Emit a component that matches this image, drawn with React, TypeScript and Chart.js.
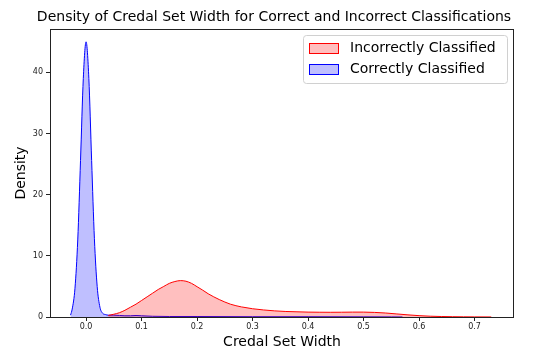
import React, { useEffect, useRef } from "react";
import { Chart, registerables } from "chart.js";

Chart.register(...registerables);

const TITLE = "Density of Credal Set Width for Correct and Incorrect Classifications";
const X_LABEL = "Credal Set Width";
const Y_LABEL = "Density";
const SERIES_NAMES = ["Incorrectly Classified", "Correctly Classified"];

const X_TICKS = [0.0, 0.1, 0.2, 0.3, 0.4, 0.5, 0.6, 0.7];
const Y_TICKS = [0, 10, 20, 30, 40];

const incorrectX = [
  0.04, 0.05, 0.06, 0.07, 0.08, 0.09, 0.1, 0.11, 0.12, 0.13, 0.14, 0.15, 0.16, 0.17, 0.18, 0.19,
  0.2, 0.21, 0.22, 0.23, 0.24, 0.25, 0.26, 0.27, 0.28, 0.29, 0.3, 0.32, 0.34, 0.36, 0.38, 0.4,
  0.42, 0.44, 0.46, 0.48, 0.5, 0.52, 0.54, 0.56, 0.58, 0.6, 0.62, 0.64, 0.66, 0.68, 0.7, 0.73,
];
const incorrectY = [
  0.25, 0.45, 0.7, 1.1, 1.6, 2.1, 2.7, 3.3, 3.9, 4.5, 5.0, 5.5, 5.8, 5.95, 5.85, 5.5,
  4.95, 4.4, 3.8, 3.3, 2.85, 2.45, 2.1, 1.85, 1.65, 1.5, 1.35, 1.15, 1.0, 0.9, 0.85, 0.8,
  0.78, 0.77, 0.78, 0.8, 0.8, 0.75, 0.65, 0.5, 0.35, 0.22, 0.13, 0.08, 0.05, 0.03, 0.02, 0.01,
];

const correctX = [
  -0.028, -0.025, -0.02, -0.015, -0.01, -0.005, 0.0, 0.005, 0.01, 0.015, 0.02, 0.025, 0.03,
  0.035, 0.04, 0.05, 0.06, 0.07, 0.08, 0.09, 0.1, 0.12, 0.15, 0.2, 0.3, 0.4, 0.5, 0.55, 0.57,
];
const correctY = [
  0.3, 1.3, 4.7, 12.6, 25.6, 39, 45, 39, 25.6, 12.8, 5.0, 1.6, 0.6,
  0.4, 0.3, 0.3, 0.25, 0.2, 0.2, 0.25, 0.2, 0.12, 0.08, 0.08, 0.05, 0.05, 0.03, 0.02, 0.01,
];

const FONT = "'DejaVu Sans', sans-serif";

export default function App() {
  const ref = useRef<HTMLCanvasElement | null>(null);

  useEffect(() => {
    document.body.style.margin = "0";
    const canvas = ref.current!;
    const toPts = (xs: number[], ys: number[]) => xs.map((x, i) => ({ x, y: ys[i] }));

    const overlay = {
      id: "overlay",
      afterDraw(chart: any) {
        const { ctx, chartArea } = chart;
        ctx.save();
        // frame
        ctx.strokeStyle = "#222";
        ctx.lineWidth = 1;
        ctx.strokeRect(
          Math.round(chartArea.left) + 0.5,
          Math.round(chartArea.top) + 0.5,
          Math.round(chartArea.right - chartArea.left) - 1,
          Math.round(chartArea.bottom - chartArea.top)
        );
        // title
        ctx.fillStyle = "#000";
        ctx.font = `14px ${FONT}`;
        ctx.textAlign = "center";
        ctx.textBaseline = "middle";
        ctx.fillText(TITLE, (chartArea.left + chartArea.right) / 2 - 8, 17);
        // x label
        ctx.fillText(X_LABEL, (chartArea.left + chartArea.right) / 2, 342);
        // y label
        ctx.save();
        ctx.translate(21, (chartArea.top + chartArea.bottom) / 2);
        ctx.rotate(-Math.PI / 2);
        ctx.fillText(Y_LABEL, 0, 0);
        ctx.restore();
        // legend
        const lx = 303, ly = 35, lw = 204, lh = 48, r = 3;
        ctx.fillStyle = "rgba(255,255,255,0.8)";
        ctx.strokeStyle = "#d0d0d0";
        ctx.lineWidth = 1;
        ctx.beginPath();
        ctx.roundRect(lx + 0.5, ly + 0.5, lw, lh, r);
        ctx.fill();
        ctx.stroke();
        const entries = [
          { name: SERIES_NAMES[0], fill: "rgba(255,0,0,0.25)", line: "rgb(255,0,0)", y: 43 },
          { name: SERIES_NAMES[1], fill: "rgba(0,0,255,0.25)", line: "rgb(0,0,255)", y: 64 },
        ];
        ctx.textAlign = "left";
        ctx.font = `14px ${FONT}`;
        for (const e of entries) {
          ctx.fillStyle = e.fill;
          ctx.fillRect(309, e.y, 29, 10);
          ctx.strokeStyle = e.line;
          ctx.strokeRect(309.5, e.y + 0.5, 29, 10);
          ctx.fillStyle = "#000";
          ctx.fillText(e.name, 350, e.y + 5);
        }
        ctx.restore();
      },
    };

    const chart = new Chart(canvas, {
      type: "line",
      data: {
        datasets: [
          {
            label: SERIES_NAMES[0],
            data: toPts(incorrectX, incorrectY),
            borderColor: "rgb(255,0,0)",
            backgroundColor: "rgba(255,0,0,0.25)",
            borderWidth: 1,
            fill: "origin",
            pointRadius: 0,
            cubicInterpolationMode: "monotone",
          },
          {
            label: SERIES_NAMES[1],
            data: toPts(correctX, correctY),
            borderColor: "rgb(0,0,255)",
            backgroundColor: "rgba(0,0,255,0.25)",
            borderWidth: 1,
            fill: "origin",
            pointRadius: 0,
            cubicInterpolationMode: "monotone",
          },
        ],
      },
      options: {
        animation: false,
        responsive: false,
        devicePixelRatio: 1,
        layout: { padding: { top: 29, right: 24, left: 0, bottom: 0 } },
        plugins: {
          legend: { display: false },
          title: { display: false },
          tooltip: { enabled: false },
        },
        scales: {
          x: {
            type: "linear",
            min: -0.065,
            max: 0.771,
            afterFit: (s: any) => {
              s.height = 33;
            },
            afterBuildTicks: (s: any) => {
              s.ticks = X_TICKS.map((v) => ({ value: v }));
            },
            grid: {
              display: true,
              drawOnChartArea: false,
              drawTicks: true,
              tickLength: 4,
              color: "#222",
            },
            border: { display: false },
            ticks: {
              color: "#222",
              font: { family: FONT, size: 8 },
              padding: 1,
              maxRotation: 0,
              autoSkip: false,
              callback: (v: any) => Number(v).toFixed(1),
            },
          },
          y: {
            type: "linear",
            min: 0,
            max: 47.1,
            afterFit: (s: any) => {
              s.width = 50;
            },
            afterBuildTicks: (s: any) => {
              s.ticks = Y_TICKS.map((v) => ({ value: v }));
            },
            grid: {
              display: true,
              drawOnChartArea: false,
              drawTicks: true,
              tickLength: 4,
              color: "#222",
            },
            border: { display: false },
            ticks: {
              color: "#222",
              font: { family: FONT, size: 8 },
              padding: 3,
              autoSkip: false,
              callback: (v: any) => String(v),
            },
          },
        },
      },
      plugins: [overlay],
    });

    return () => chart.destroy();
  }, []);

  return (
    <div style={{ position: "fixed", left: 0, top: 0, width: 538, height: 350, background: "#fff" }}>
      <canvas ref={ref} width={538} height={350} style={{ width: 538, height: 350 }} />
    </div>
  );
}
